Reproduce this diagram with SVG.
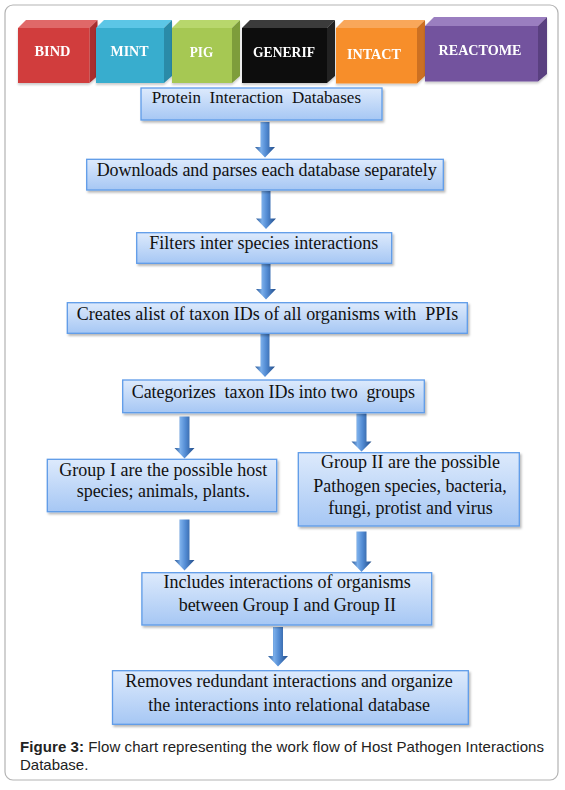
<svg xmlns="http://www.w3.org/2000/svg" width="565" height="790" viewBox="0 0 565 790">
<defs>
<linearGradient id="boxg" x1="0" y1="0" x2="0" y2="1">
<stop offset="0" stop-color="#DDEAFC"/>
<stop offset="1" stop-color="#A6C7F4"/>
</linearGradient>
<linearGradient id="arrg" x1="0" y1="0" x2="1" y2="0">
<stop offset="0" stop-color="#2A5897"/>
<stop offset="0.3" stop-color="#7AAEEA"/>
<stop offset="0.55" stop-color="#528BD3"/>
<stop offset="1" stop-color="#224C88"/>
</linearGradient>
<filter id="sh" x="-5%" y="-10%" width="115%" height="135%">
<feDropShadow dx="1.5" dy="2" stdDeviation="1.2" flood-color="#000" flood-opacity="0.28"/>
</filter>
<filter id="csh" x="-5%" y="-10%" width="115%" height="130%">
<feDropShadow dx="0" dy="2" stdDeviation="1.2" flood-color="#000" flood-opacity="0.2"/>
</filter>
</defs>
<style>
.box{fill:url(#boxg);stroke:#5E9BE8;stroke-width:1.3;filter:url(#sh)}
.t{font-family:"Liberation Serif","Times New Roman",serif;font-size:18px;fill:#111;white-space:pre}
.cl{font-family:"Liberation Serif","Times New Roman",serif;font-size:15px;font-weight:bold;fill:#fff;text-anchor:middle}
.arr{fill:url(#arrg)}
.cap{font-family:"Liberation Sans",Arial,sans-serif;font-size:15px;fill:#222}
</style>
<rect x="5" y="5" width="553" height="775" rx="8" fill="#fff" stroke="#b3b3b3" stroke-width="1.2"/>

<g id="cube-bind" filter="url(#csh)">
<polygon points="18,28 26,20 97.5,20 89.5,28" fill="#E06868"/>
<polygon points="89.5,28 97.5,20 97.5,76 89.5,83" fill="#A82D2D"/>
<rect x="18" y="28" width="71.5" height="55" fill="#D13C3C"/>
<text class="cl" x="52.5" y="56" textLength="36" lengthAdjust="spacingAndGlyphs">BIND</text>
</g>
<g id="cube-mint" filter="url(#csh)">
<polygon points="96,28 104,20 172,20 164,28" fill="#5CC6E6"/>
<polygon points="164,28 172,20 172,76 164,83" fill="#2C8BA8"/>
<rect x="96" y="28" width="68" height="55" fill="#37ADCE"/>
<text class="cl" x="129.5" y="56" textLength="38" lengthAdjust="spacingAndGlyphs">MINT</text>
</g>
<g id="cube-pig" filter="url(#csh)">
<polygon points="172,28 180,20 240,20 232,28" fill="#B8D76C"/>
<polygon points="232,28 240,20 240,76 232,83" fill="#7E9D3A"/>
<rect x="172" y="28" width="60" height="55" fill="#A6C853"/>
<text class="cl" x="201.5" y="56.5" textLength="23.5" lengthAdjust="spacingAndGlyphs">PIG</text>
</g>
<g id="cube-generif" filter="url(#csh)">
<polygon points="242,28 250,20 335,20 327,28" fill="#3A3A3A"/>
<polygon points="327,28 335,20 335,76 327,83" fill="#222"/>
<rect x="242" y="28" width="85" height="55" fill="#0B0B0B"/>
<text class="cl" x="284" y="56.5" textLength="62" lengthAdjust="spacingAndGlyphs">GENERIF</text>
</g>
<g id="cube-intact" filter="url(#csh)">
<polygon points="336,28 344,20 425,20 417,28" fill="#F9A75A"/>
<polygon points="417,28 425,20 425,76 417,83.5" fill="#CC7020"/>
<rect x="336" y="28" width="81" height="55.5" fill="#F78E2C"/>
<text class="cl" x="374" y="58.5" textLength="54" lengthAdjust="spacingAndGlyphs">INTACT</text>
</g>
<g id="cube-reactome" filter="url(#csh)">
<polygon points="425,26 434,17 547,17 538,26" fill="#9A7EC0"/>
<polygon points="538,26 547,17 547,74 538,81.5" fill="#5A3F80"/>
<rect x="425" y="26" width="113" height="55.5" fill="#73539E"/>
<text class="cl" x="480" y="55" textLength="83" lengthAdjust="spacingAndGlyphs">REACTOME</text>
</g>

<g id="connectors">
<path class="arr" d="M260.5,122 H269.5 V147 H275 L265,157.5 L255,147 H260.5 Z"/>
<path class="arr" d="M261.5,191 H270.5 V218.5 H276 L266,229 L256,218.5 H261.5 Z"/>
<path class="arr" d="M261.5,264 H270.5 V289 H276 L266,299.5 L256,289 H261.5 Z"/>
<path class="arr" d="M260.5,334 H269.5 V366.5 H275 L265,377 L255,366.5 H260.5 Z"/>
<path class="arr" d="M179.5,416.5 H189.5 V448 H194.5 L184.5,458.5 L174.5,448 H179.5 Z"/>
<path class="arr" d="M356.5,413.5 H366.5 V441.5 H371.5 L361.5,451.5 L351.5,441.5 H356.5 Z"/>
<path class="arr" d="M179.5,519.5 H189.5 V560 H194.5 L184.5,570.5 L174.5,560 H179.5 Z"/>
<path class="arr" d="M356.5,531.5 H366.5 V561.5 H371.5 L361.5,572 L351.5,561.5 H356.5 Z"/>
<path class="arr" d="M273,627 H283 V656 H288 L278,666.5 L268,656 H273 Z"/>
</g>

<g id="n1">
<rect class="box" x="141" y="88" width="241" height="32"/>
<text class="t" x="151.7" y="103.3" style="font-size:17px" textLength="209.3">Protein  Interaction  Databases</text>
</g>
<g id="n2">
<rect class="box" x="86.7" y="159.3" width="356.6" height="30.7"/>
<text class="t" x="96.7" y="176" textLength="340">Downloads and parses each database separately</text>
</g>
<g id="n3">
<rect class="box" x="136.7" y="232.7" width="255" height="30.6"/>
<text class="t" x="149.3" y="249.3" textLength="229">Filters inter species interactions</text>
</g>
<g id="n4">
<rect class="box" x="67.3" y="302.7" width="400" height="30.6"/>
<text class="t" x="76.7" y="320" textLength="381.6">Creates alist of taxon IDs of all organisms with  PPIs</text>
</g>
<g id="n5">
<rect class="box" x="122.7" y="380" width="301.6" height="32.7"/>
<text class="t" x="131.7" y="398.3" textLength="283.3">Categorizes  taxon IDs into two  groups</text>
</g>
<g id="n6">
<rect class="box" x="47.3" y="459.3" width="229.4" height="52.4"/>
<text class="t" x="59.3" y="476" textLength="208">Group I are the possible host</text>
<text class="t" x="76.7" y="496.7" textLength="173.3">species; animals, plants.</text>
</g>
<g id="n7">
<rect class="box" x="298.3" y="452.7" width="221" height="73.3"/>
<text class="t" x="321" y="468.3" textLength="179">Group II are the possible</text>
<text class="t" x="313.3" y="491.7" textLength="193.4">Pathogen species, bacteria,</text>
<text class="t" x="328.3" y="514" textLength="164.4">fungi, protist and virus</text>
</g>
<g id="n8">
<rect class="box" x="141.9" y="572.7" width="289.8" height="52.3"/>
<text class="t" x="163.5" y="588.3" textLength="247.3">Includes interactions of organisms</text>
<text class="t" x="178.7" y="611" textLength="217.3">between Group I and Group II</text>
</g>
<g id="n9">
<rect class="box" x="112.5" y="670.7" width="355.8" height="53.6"/>
<text class="t" x="125.3" y="686.7" textLength="327.4">Removes redundant interactions and organize</text>
<text class="t" x="148.3" y="710.7" textLength="281.7">the interactions into relational database</text>
</g>

<text class="cap" x="20" y="751.7" textLength="524"><tspan font-weight="bold">Figure 3:</tspan> Flow chart representing the work flow of Host Pathogen Interactions</text>
<text class="cap" x="20" y="770">Database.</text>
</svg>
